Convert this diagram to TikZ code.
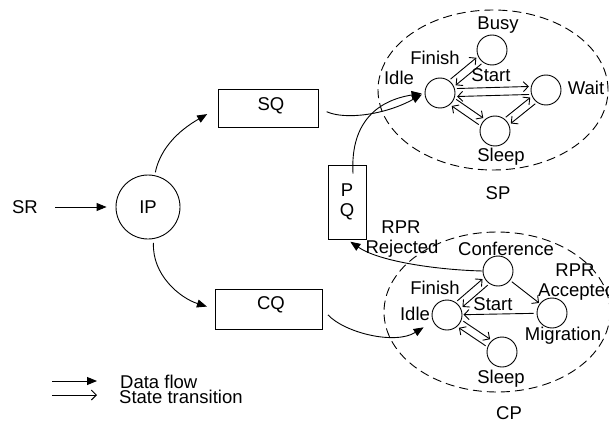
\documentclass[tikz,border=0pt]{standalone}
\usepackage{fontspec}
\setmainfont{Liberation Sans}
\usetikzlibrary{arrows.meta,calc,shapes.geometric}
\tikzset{
  df/.style={-{Triangle[length=10pt,width=8pt]}, line width=0.9pt},
  st/.style={-{Straight Barb[length=5pt,width=10pt]}, line width=0.9pt},
  stc/.style={circle, draw, line width=0.9pt, minimum size=30pt, inner sep=0pt},
  qbox/.style={draw, line width=0.9pt, inner sep=0pt},
  lbl/.style={inner sep=0pt},
  region/.style={ellipse, draw, dash pattern=on 9pt off 5pt, line width=0.9pt, inner sep=0pt}
}
\newcommand\twoway[3][17pt]{%
  \draw[st, shorten <=#1, shorten >=#1] ($(#2)!4pt!90:(#3)$) -- ($(#3)!4pt!-90:(#2)$);
  \draw[st, shorten <=#1, shorten >=#1] ($(#3)!4pt!90:(#2)$) -- ($(#2)!4pt!-90:(#3)$);}
\begin{document}
\begin{tikzpicture}[x=1pt,y=-1pt, font=\fontsize{18.5}{20}\selectfont]
\useasboundingbox (0,0) rectangle (609,422);

% regions
\node[region, minimum width=230pt, minimum height=160pt] (spreg) at (493,90) {};
\node[region, minimum width=226pt, minimum height=160pt] (cpreg) at (497,312) {};

% left part
\node[lbl] (sr) at (25,207) {SR};
\node[circle, draw, line width=0.9pt, minimum size=64pt, inner sep=0pt] (ip) at (148,207) {IP};
\node[qbox, minimum width=100pt, minimum height=38pt] (sq) at (268,108) {};
\node[lbl] (sqt) at (271,106) {SQ};
\node[qbox, minimum width=107pt, minimum height=40pt] (cq) at (268.5,309) {};
\node[lbl] (cqt) at (271,305) {CQ};
\node[qbox, minimum width=38pt, minimum height=74pt, align=center] (pq) at (347,202) {P\\Q};

% SP states
\node[stc] (idleS) at (440,93) {};
\node[stc] (busyS) at (492,50) {};
\node[stc] (waitS) at (546,90) {};
\node[stc] (sleepS) at (495,131) {};
\node[lbl] (busyL) at (498,25) {Busy};
\node[lbl] (finishS) at (435,58) {Finish};
\node[lbl] (startS) at (491,75) {Start};
\node[lbl] (idleSL) at (399,78) {Idle};
\node[lbl] (waitL) at (586,88) {Wait};
\node[lbl] (sleepSL) at (501,157) {Sleep};
\node[lbl] (spL) at (498,193) {SP};

% CP states
\node[stc] (idleC) at (447,315) {};
\node[stc] (confC) at (498,271) {};
\node[stc] (migC) at (552,313) {};
\node[stc] (sleepC) at (502,352) {};
\node[lbl] (rpr1) at (401,227) {RPR};
\node[lbl] (rej) at (402,249) {Rejected};
\node[lbl] (confL) at (506,249) {Conference};
\node[lbl] (rpr2) at (575,270) {RPR};
\node[lbl, anchor=west] (acc) at (538,292) {Accepted};
\node[lbl] (finishC) at (435,288) {Finish};
\node[lbl] (idleCL) at (415,314) {Idle};
\node[lbl] (startC) at (493,304) {Start};
\node[lbl] (migL) at (563,336) {Migration};
\node[lbl] (sleepCL) at (501,379) {Sleep};
\node[lbl] (cpL) at (509,413) {CP};

% data flow
\draw[df, shorten <=17pt, shorten >=9pt] (sr) -- (ip);
\draw[df, shorten <=3pt, shorten >=12pt] (ip.78) .. controls (162,140) and (192,123) .. (sq.west);
\draw[df, shorten <=4pt, shorten >=8pt] (ip.-80) .. controls (152,275) and (180,298) .. (cq.west);
\draw[df, shorten <=9pt, shorten >=3pt] (sq.east) .. controls (345,120) and (385,115) .. (idleS.west);
\draw[df, shorten >=3pt] ($(pq.north)+(6,9)$) .. controls (350,120) and (380,100) .. (idleS.west);
\draw[df, shorten <=8pt, shorten >=11pt] (cq.east) .. controls (345,333) and (395,345) .. (idleC.205);
\draw[df, shorten >=4pt] (confC.west) .. controls (440,270) and (380,262) .. (pq.south);

% state transitions SP
\twoway{idleS}{busyS}
\twoway{idleS}{waitS}
\twoway{idleS}{sleepS}
\twoway{waitS}{sleepS}

% state transitions CP
\twoway{idleC}{confC}
\twoway{idleC}{sleepC}
\draw[st, shorten <=2pt, shorten >=1pt] (confC) -- (migC);
\draw[st, shorten <=3pt, shorten >=1pt] (migC) -- (idleC);

% legend
\coordinate (l1a) at (52,381);
\coordinate (l1b) at (97,381);
\coordinate (l2a) at (52,395);
\coordinate (l2b) at (97,395);
\draw[df] (l1a) -- (l1b);
\draw[st] (l2a) -- (l2b);
\node[lbl, anchor=west] (dfL) at (120,381.5) {Data flow};
\node[lbl, anchor=west] (stL) at (119,396.5) {State transition};
\end{tikzpicture}
\end{document}
